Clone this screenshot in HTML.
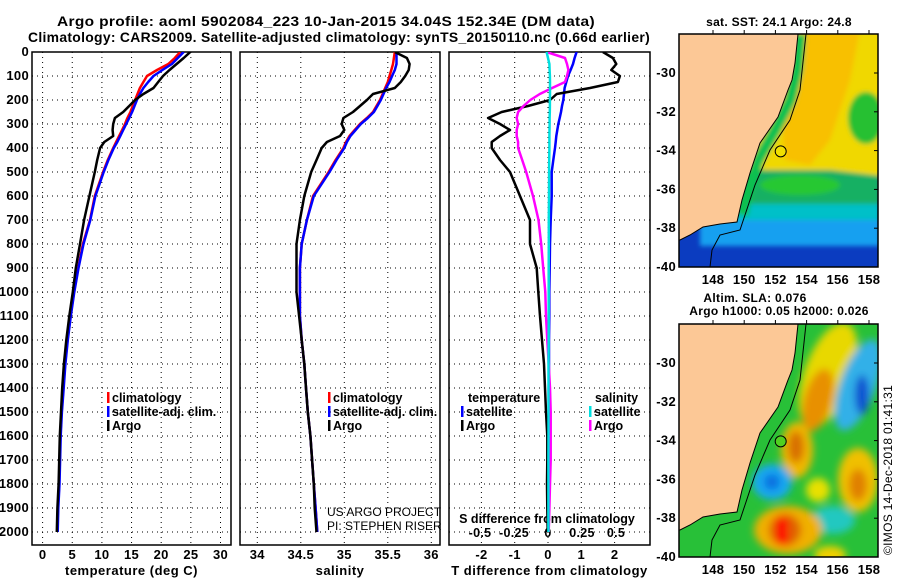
<!DOCTYPE html>
<html><head><meta charset="utf-8"><style>
body{margin:0;background:#fff;}
svg{display:block;font-family:"Liberation Sans",sans-serif;font-weight:bold;letter-spacing:0.3px;}
</style></head><body>
<svg id="s" width="900" height="580" viewBox="0 0 900 580">
<defs>
<clipPath id="c1"><rect x="32" y="52" width="199" height="493"/></clipPath>
<clipPath id="c2"><rect x="240" y="52" width="200" height="493"/></clipPath>
<clipPath id="c3"><rect x="449" y="52" width="201" height="493"/></clipPath>
<clipPath id="m1"><rect x="679" y="34" width="199" height="233"/></clipPath>
<clipPath id="m2"><rect x="679" y="324" width="199" height="233"/></clipPath>
<filter id="bl" x="-20%" y="-20%" width="140%" height="140%"><feGaussianBlur stdDeviation="2.5"/></filter>
<filter id="bl2" x="-50%" y="-50%" width="200%" height="200%"><feGaussianBlur stdDeviation="4"/></filter>
</defs>
<text x="326" y="26" font-size="14" text-anchor="middle" textLength="538" lengthAdjust="spacingAndGlyphs">Argo profile: aoml 5902084_223 10-Jan-2015 34.04S 152.34E (DM data)</text>
<text x="339" y="42" font-size="14" text-anchor="middle" textLength="622" lengthAdjust="spacingAndGlyphs">Climatology: CARS2009. Satellite-adjusted climatology: synTS_20150110.nc (0.66d earlier)</text>

<g>
<text x="779" y="26" font-size="12" text-anchor="middle">sat. SST: 24.1 Argo: 24.8</text>
<g clip-path="url(#m1)">
<rect x="679" y="34" width="199" height="233" fill="#0b3cc0"/>
<g filter="url(#bl)">
<rect x="700" y="214" width="180" height="32" fill="#14a0f0"/>
<rect x="720" y="198" width="160" height="22" fill="#00c0c8"/>
<rect x="679" y="166" width="201" height="38" fill="#14b064"/>
<ellipse cx="800" cy="185" rx="40" ry="10" fill="#28c830"/>
<polygon points="740,30 882,30 882,176 830,170 785,170 740,170" fill="#f0d800"/>
<polygon points="790,30 860,30 850,80 830,140 810,165 785,160 780,100" fill="#f8c000"/>
<ellipse cx="866" cy="118" rx="18" ry="26" fill="#28c030"/>
<polyline points="800,34 797,70 790,100 775,130 758,160 748,190 742,215" fill="none" stroke="#10c050" stroke-width="12"/>
</g>
</g>
</g>
<g>
<text x="755" y="302" font-size="12" text-anchor="middle">Altim. SLA: 0.076</text>
<text x="779" y="315" font-size="12" text-anchor="middle">Argo h1000: 0.05 h2000: 0.026</text>
<g clip-path="url(#m2)">
<rect x="679" y="324" width="199" height="233" fill="#28c038"/>
<g filter="url(#bl2)">
<ellipse cx="828" cy="375" rx="24" ry="55" transform="rotate(20 828 375)" fill="#e8d800"/>
<ellipse cx="818" cy="400" rx="14" ry="32" transform="rotate(15 818 400)" fill="#e89000"/>
<ellipse cx="797" cy="450" rx="16" ry="28" fill="#f0b800"/>
<ellipse cx="796" cy="447" rx="8" ry="16" fill="#d87000"/>
<ellipse cx="858" cy="385" rx="18" ry="48" transform="rotate(20 858 385)" fill="#30b0e8"/>
<ellipse cx="862" cy="395" rx="7" ry="20" fill="#1050d0"/>
<ellipse cx="772" cy="482" rx="20" ry="18" fill="#18a8f0"/>
<ellipse cx="772" cy="482" rx="8" ry="8" fill="#1070e0"/>
<ellipse cx="858" cy="480" rx="20" ry="32" fill="#f0c000"/>
<ellipse cx="858" cy="485" rx="9" ry="16" fill="#e08000"/>
<ellipse cx="833" cy="520" rx="22" ry="14" fill="#20c8c0"/>
<ellipse cx="818" cy="490" rx="12" ry="12" fill="#e8e000"/>
<ellipse cx="788" cy="530" rx="34" ry="24" fill="#f0b000"/>
<ellipse cx="785" cy="530" rx="16" ry="16" fill="#e06000"/>
<rect x="776" y="518" width="12" height="26" fill="#ff0000"/>
<ellipse cx="830" cy="555" rx="16" ry="9" fill="#f0d000"/>
</g>
</g>
<text transform="translate(892,555) rotate(-90)" font-size="12" font-weight="normal">©IMOS 14-Dec-2018 01:41:31</text>
</g>
<g id="mapframes"></g>

<g id="plots"></g>
</svg>
<script>
const P=[0,25,50,75,100,125,150,175,200,225,250,275,300,325,350,375,400,450,500,600,700,800,900,1000,1100,1200,1300,1400,1500,1600,1700,1800,1900,2000];
const argoT=[24.9,23.8,22.6,21.4,20.3,19.5,18.7,17.0,15.6,14.6,13.6,12.2,11.9,11.8,11.9,10.4,9.7,9.2,8.8,7.9,7.0,6.3,5.6,5.1,4.5,4.0,3.6,3.3,3.1,2.9,2.8,2.7,2.5,2.4];
const climT=[23.2,22.3,21.2,19.3,17.6,17.0,16.4,16.0,15.6,15.2,14.8,14.3,13.9,13.4,12.9,12.4,11.9,11.0,10.2,8.8,8.0,6.8,6.0,5.3,4.7,4.2,3.8,3.5,3.2,3.0,2.9,2.8,2.6,2.5];
const satT=[23.8,22.8,21.8,20.2,18.7,17.8,17.0,16.4,15.9,15.5,15.1,14.6,14.1,13.6,13.1,12.6,12.0,11.1,10.3,8.9,8.05,6.9,6.05,5.35,4.75,4.25,3.85,3.55,3.25,3.05,2.95,2.85,2.65,2.55];
const argoS=[35.58,35.72,35.75,35.74,35.70,35.65,35.58,35.33,35.26,35.18,35.10,34.99,34.97,35.00,34.95,34.80,34.74,34.68,34.62,34.54,34.49,34.45,34.45,34.45,34.48,34.51,34.54,34.56,34.58,34.61,34.63,34.65,34.66,34.68];
const climS=[35.58,35.57,35.56,35.54,35.52,35.50,35.47,35.44,35.41,35.37,35.33,35.26,35.18,35.12,35.06,35.02,34.99,34.90,34.82,34.64,34.57,34.51,34.49,34.49,34.49,34.51,34.54,34.56,34.58,34.61,34.63,34.65,34.67,34.69];
const satS=[35.60,35.60,35.60,35.58,35.55,35.52,35.48,35.45,35.42,35.38,35.34,35.27,35.19,35.13,35.07,35.03,35.00,34.91,34.83,34.65,34.57,34.51,34.49,34.49,34.49,34.51,34.54,34.56,34.58,34.61,34.63,34.65,34.67,34.69];
const dTargo=[1.65,1.95,2.05,1.9,2.16,2.1,1.26,0.26,0.06,-0.6,-1.39,-1.8,-1.44,-1.14,-1.44,-1.69,-1.69,-1.44,-1.14,-0.84,-0.54,-0.54,-0.34,-0.29,-0.24,-0.18,-0.12,-0.09,-0.06,-0.02,-0.02,-0.03,-0.02,-0.01];
const dTsat=[0.86,0.8,0.75,0.68,0.6,0.55,0.5,0.48,0.46,0.42,0.39,0.35,0.31,0.28,0.25,0.23,0.21,0.16,0.11,0.11,0.08,0.06,0.05,0.04,0.04,0.03,0.03,0.02,0.02,0.02,0.02,0.01,0.01,0.01];
const dSargo=[-0.01,0.125,0.14,0.15,0.14,0.125,0.03,-0.06,-0.13,-0.18,-0.22,-0.23,-0.22,-0.23,-0.23,-0.22,-0.22,-0.19,-0.16,-0.11,-0.07,-0.05,-0.035,-0.02,-0.015,-0.005,0.005,0.015,0.02,0.02,0.02,0.015,0.01,0.005];
const dSsat=[-0.01,0,0.01,0.012,0.014,0.015,0.015,0.015,0.014,0.014,0.013,0.012,0.012,0.011,0.01,0.01,0.01,0.009,0.008,0.007,0.006,0.006,0.005,0.005,0.005,0.005,0.004,0.004,0.004,0.004,0.003,0.003,0.003,0.003];
const yTicks=[0,100,200,300,400,500,600,700,800,900,1000,1100,1200,1300,1400,1500,1600,1700,1800,1900,2000];
const tTicks=[0,5,10,15,20,25,30];
const sTicks=[34,34.5,35,35.5,36];
const sTickLabels=["34","34.5","35","35.5","36"];
const dTTicks=[-2,-1,0,1,2];
const dSTicks=[-0.5,-0.25,0,0.25,0.5];
const dSTickLabels=["-0.5","-0.25","0","0.25","0.5"];

const NS="http://www.w3.org/2000/svg";
const root=document.getElementById('plots');
function el(tag,attrs,parent,text){const e=document.createElementNS(NS,tag);for(const k in attrs)e.setAttribute(k,attrs[k]);if(text!==undefined)e.textContent=text;(parent||root).appendChild(e);return e;}
const yP=p=>52+p*0.24;
const xT=v=>42.6+v*5.93;
const xS=v=>257.3+(v-34)*87;
const xDT=v=>548+v*33.3;
const xDS=v=>548+v*136;
const TOP=52,BOT=545;

function panel(x0,x1,clip,ticks,labels,xf,xlabel,name){
  const g=el('g',{});
  
  
  ticks.forEach(t=>{const l=el('line',{x1:xf(t),x2:xf(t),y1:TOP,y2:BOT,stroke:'#000','stroke-width':1,'stroke-dasharray':'1,4'},g);
    });
  yTicks.forEach(p=>{const l=el('line',{x1:x0,x2:x1,y1:yP(p),y2:yP(p),stroke:'#000','stroke-width':1,'stroke-dasharray':'1,4'},g);
    });
  if(labels){ticks.forEach((t,i)=>{const tx=el('text',{x:xf(t),y:559,'font-size':13,'text-anchor':'middle'},g,labels[i]);
    });}
  const xl=el('text',{x:(x0+x1)/2,y:575,'font-size':13,'text-anchor':'middle','letter-spacing':'0.5px'},g,xlabel);
  
  const f=el('rect',{x:x0,y:TOP,width:x1-x0,height:BOT-TOP,fill:'none',stroke:'#000','stroke-width':1.5},g);
  
  return g;
}
function series(vals,xf,color,clip,name,w){
  const d=P.map((p,i)=>(i?'L':'M')+xf(vals[i]).toFixed(1)+','+yP(p).toFixed(1)).join('');
  const pth=el('path',{d:d,fill:'none',stroke:color,'stroke-width':w||2.5,'clip-path':'url(#'+clip+')','stroke-linejoin':'round'});
  
  
}
panel(32,231,'c1',tTicks,tTicks.map(String),xT,'temperature (deg C)','temperature-panel');
panel(240,440,'c2',sTicks,sTickLabels,xS,'salinity','salinity-panel');
panel(449,650,'c3',dTTicks,dTTicks.map(String),xDT,'T difference from climatology','difference-panel');
dSTicks.forEach((t,i)=>{const tx=el('text',{x:xDS(t),y:537,'font-size':12.5,'text-anchor':'middle'},root,dSTickLabels[i]);
  });
{const t=el('text',{x:547,y:523,'font-size':12.5,'text-anchor':'middle','letter-spacing':'0px'},root,'S difference from climatology');
}
yTicks.forEach(p=>{const tx=el('text',{x:29,y:yP(p)+4,'font-size':13,'text-anchor':'end'},root,String(p));
  });

series(climT,xT,'#ff0000','c1','temp-climatology-line');
series(satT,xT,'#0000ff','c1','temp-satellite-line');
series(argoT,xT,'#000000','c1','temp-argo-line');
series(climS,xS,'#ff0000','c2','sal-climatology-line');
series(satS,xS,'#0000ff','c2','sal-satellite-line');
series(argoS,xS,'#000000','c2','sal-argo-line');
series(dTsat,xDT,'#0000ff','c3','tdiff-satellite-line');
series(dTargo,xDT,'#000000','c3','tdiff-argo-line');
series(dSargo,xDS,'#ff00ff','c3','sdiff-argo-line');
series(dSsat,xDS,'#00e0e0','c3','sdiff-satellite-line');

function legendEntry(x,y,color,label){
  const g=el('g',{});
  
  
  el('rect',{x:x,y:y-10,width:2.5,height:11,fill:color},g);
  el('text',{x:x+5,y:y,'font-size':12.5,'letter-spacing':'0px'},g,label);
}
legendEntry(107,402,'#ff0000','climatology');
legendEntry(107,416,'#0000ff','satellite-adj. clim.');
legendEntry(107,430,'#000000','Argo');
legendEntry(328,402,'#ff0000','climatology');
legendEntry(328,416,'#0000ff','satellite-adj. clim.');
legendEntry(328,430,'#000000','Argo');
{const t=el('text',{x:468,y:402,'font-size':12.5,'letter-spacing':'0px'},root,'temperature');}
{const t=el('text',{x:595,y:402,'font-size':12.5,'letter-spacing':'0px'},root,'salinity');}
legendEntry(461,416,'#0000ff','satellite');
legendEntry(461,430,'#000000','Argo');
legendEntry(589,416,'#00e0e0','satellite');
legendEntry(589,430,'#ff00ff','Argo');
{const t=el('text',{x:327,y:516,'font-size':12,'font-weight':'normal','letter-spacing':'0px'},root,'US ARGO PROJECT');}
{const t=el('text',{x:327,y:530,'font-size':12,'font-weight':'normal','letter-spacing':'0px'},root,'PI: STEPHEN RISER');}

const mf=document.getElementById('mapframes');
const lats=[-30,-32,-34,-36,-38,-40];
const lons=[148,150,152,154,156,158];
const coast=[[798,34],[795,63],[792,80],[788,90],[778,117],[760,143],[750,173],[742,200],[737,222],[720,224],[703,227],[690,235],[680,240]];
const iso=[[806,34],[800,90],[790,120],[770,150],[755,185],[745,215],[740,230],[720,235],[712,250],[710,267]];
[0,290].forEach((dy,k)=>{
  const g=el('g',{'clip-path':'url(#m'+(k+1)+')'},mf);
  
  
  const land=[[679,34]].concat(coast).concat([[679,240]]);
  el('polygon',{points:land.map(p=>p[0]+','+(p[1]+dy)).join(' '),fill:'#fcc896',stroke:'#000','stroke-width':1},g);
  el('polyline',{points:iso.map(p=>p[0]+','+(p[1]+dy)).join(' '),fill:'none',stroke:'#000','stroke-width':1},g);
  const c=el('circle',{cx:780.7,cy:151.4+dy,r:5.5,fill:k?'#50d020':'#f0e000',stroke:'#000','stroke-width':1},g);
  
  const f=el('rect',{x:679,y:34+dy,width:199,height:233,fill:'none',stroke:'#000','stroke-width':1.5},mf);
  
  lats.forEach((la,i)=>{const y=73+(-30-la)*19.4+dy;
    const t=el('text',{x:676,y:y+4,'font-size':13,'text-anchor':'end'},mf,String(la));
    
    el('line',{x1:874,x2:878,y1:y,y2:y,stroke:'#000'},mf);});
  lons.forEach(lo=>{const x=713+(lo-148)*15.6;
    const t=el('text',{x:x,y:284+dy,'font-size':13,'text-anchor':'middle'},mf,String(lo));
    
    el('line',{x1:x,x2:x,y1:34+dy-4,y2:34+dy,stroke:'#000'},mf);});
});
</script>
</body></html>
